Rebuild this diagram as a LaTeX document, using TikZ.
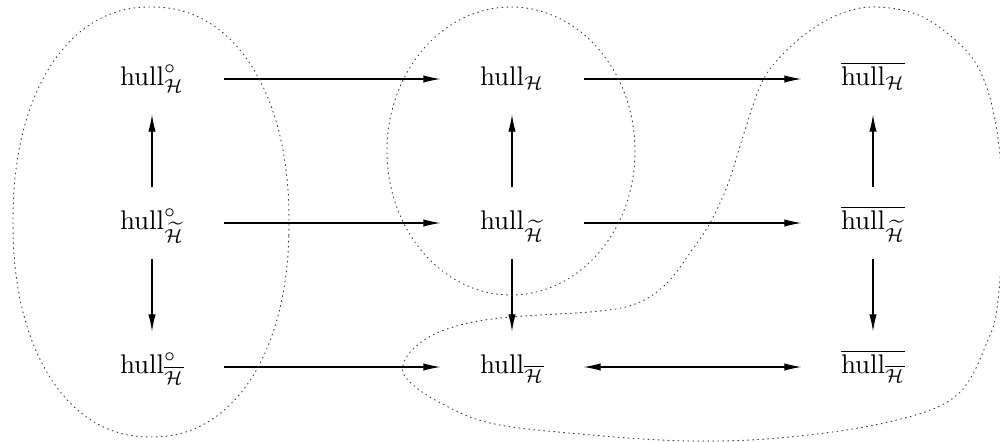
\documentclass[tikz,border=0pt]{standalone}
\usetikzlibrary{arrows.meta}
\begin{document}
\begin{tikzpicture}[x=0.371pt,y=-0.371pt,
  lbl/.style={inner sep=0pt,minimum width=52.7pt,minimum height=26pt,text height=9pt,text depth=4pt},
  arr/.style={line width=0.4pt,-{Latex[length=6.3pt,width=2.7pt]}},
  darr/.style={line width=0.4pt,{Latex[length=6.3pt,width=2.7pt]}-{Latex[length=6.3pt,width=2.7pt]}},
  blob/.style={line width=0.35pt,black!75,dash pattern=on 0.35pt off 1.5pt,line cap=round}]
\useasboundingbox (0,0) rectangle (1000,442);
% nodes
\node[lbl] (n11) at (152,79) {$\mathrm{hull}^{\circ}_{\mathcal{H}}$};
\node[lbl] (n21) at (152,223) {$\mathrm{hull}^{\circ}_{\widetilde{\mathcal{H}}}$};
\node[lbl] (n31) at (152,367) {$\mathrm{hull}^{\circ}_{\overline{\mathcal{H}}}$};
\node[lbl] (n12) at (512,79) {$\mathrm{hull}_{\mathcal{H}}$};
\node[lbl] (n22) at (512,223) {$\mathrm{hull}_{\widetilde{\mathcal{H}}}$};
\node[lbl] (n32) at (512,367) {$\mathrm{hull}_{\overline{\mathcal{H}}}$};
\node[lbl] (n13) at (873,79) {$\overline{\mathrm{hull}_{\mathcal{H}}}$};
\node[lbl] (n23) at (873,223) {$\overline{\mathrm{hull}_{\widetilde{\mathcal{H}}}}$};
\node[lbl] (n33) at (873,367) {$\overline{\mathrm{hull}_{\overline{\mathcal{H}}}}$};
% vertical arrows
\draw[arr] (n21.north) -- (n11.south);
\draw[arr] (n21.south) -- (n31.north);
\draw[arr] (n22.north) -- (n12.south);
\draw[arr] (n22.south) -- (n32.north);
\draw[arr] (n23.north) -- (n13.south);
\draw[arr] (n23.south) -- (n33.north);
% horizontal arrows
\draw[arr] (n11.east) -- (n12.west);
\draw[arr] (n12.east) -- (n13.west);
\draw[arr] (n21.east) -- (n22.west);
\draw[arr] (n22.east) -- (n23.west);
\draw[arr] (n31.east) -- (n32.west);
\draw[darr] (n32.east) -- (n33.west);
% dotted regions
\draw[blob] plot[domain=0:360,samples=121,smooth cycle,variable=\t]
  ({151+138*sign(cos(\t))*abs(cos(\t))^0.92},{222+215*sign(sin(\t))*abs(sin(\t))^0.92});
\draw[blob] (511,151) ellipse[x radius=124,y radius=144];
\draw[blob] plot[smooth cycle,tension=0.6] coordinates {
  (870,7) (913,13) (947,33) (978,67) (996,125) (1003,210) (998,300) (988,340)
  (957,395) (893,421) (790,437) (690,441) (580,434) (490,423) (437,401)
  (407,379) (404,362) (420,343) (450,328) (500,318) (600,311) (640,302)
  (668,282) (692,250) (710,223) (728,184) (745,130) (762,82) (782,55) (807,33) (835,16)};
\end{tikzpicture}
\end{document}
